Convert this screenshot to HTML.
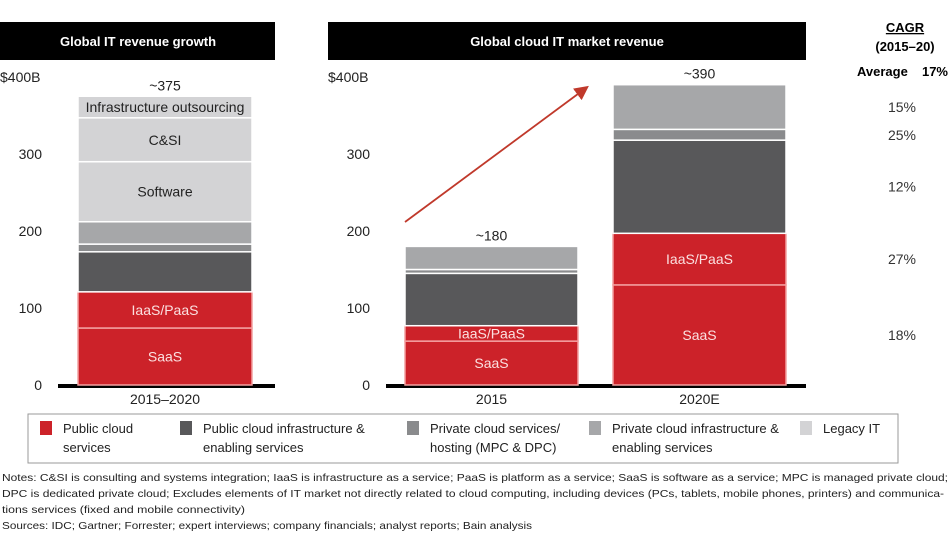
<!DOCTYPE html>
<html><head><meta charset="utf-8"><style>
body{margin:0;background:#fff;width:950px;height:533px;overflow:hidden;font-family:"Liberation Sans",sans-serif}
svg{display:block}
</style></head><body>
<svg id="chart" width="950" height="533" font-family="Liberation Sans, sans-serif">
<rect x="0" y="22" width="275" height="38" fill="#000"/>
<text x="138" y="46" fill="#fff" font-size="13" font-weight="bold" text-anchor="middle">Global IT revenue growth</text>
<rect x="328" y="22" width="478" height="38" fill="#000"/>
<text x="567" y="46" fill="#fff" font-size="13" font-weight="bold" text-anchor="middle">Global cloud IT market revenue</text>
<g>
<text x="905" y="32" font-size="13" font-weight="bold" text-anchor="middle" text-decoration="underline">CAGR</text>
<text x="905" y="51" font-size="13" font-weight="bold" text-anchor="middle">(2015–20)</text>
<text x="857" y="76" font-size="13" font-weight="bold">Average</text>
<text x="948" y="76" font-size="13" font-weight="bold" text-anchor="end">17%</text>
</g>
<g id="plot"></g>
<rect x="28" y="414" width="870" height="49" fill="none" stroke="#999"/>
<g id="legend" font-size="13"></g>
<g font-size="10.5" fill="#222">
<text x="2" y="481" textLength="946" lengthAdjust="spacingAndGlyphs">Notes: C&amp;SI is consulting and systems integration; IaaS is infrastructure as a service; PaaS is platform as a service; SaaS is software as a service; MPC is managed private cloud;</text>
<text x="2" y="497" textLength="942" lengthAdjust="spacingAndGlyphs">DPC is dedicated private cloud; Excludes elements of IT market not directly related to cloud computing, including devices (PCs, tablets, mobile phones, printers) and communica-</text>
<text x="2" y="513" textLength="243" lengthAdjust="spacingAndGlyphs">tions services (fixed and mobile connectivity)</text>
<text x="2" y="529" textLength="530" lengthAdjust="spacingAndGlyphs">Sources: IDC; Gartner; Forrester; expert interviews; company financials; analyst reports; Bain analysis</text>
</g>
</svg>
<script>
const categories=["2015–2020","2015","2020E"];
const segNames=["SaaS","IaaS/PaaS","Public cloud infra","Private cloud services","Private cloud infra","Software","C&SI","Infrastructure outsourcing"];
const seg2015_2020=[74,47,52,10,29,78,57,28];
const seg2015=[57,20,68,5,30,0,0,0];
const seg2020=[130,67,121,14,58,0,0,0];
const totals=["~375","~180","~390"];
const yTicks=[0,100,200,300,400];
const cagrLabels=["18%","27%","12%","25%","15%"];
const legendLabels=[["Public cloud","services"],["Public cloud infrastructure &","enabling services"],["Private cloud services/","hosting (MPC & DPC)"],["Private cloud infrastructure &","enabling services"],["Legacy IT",""]];
const colors=["#cc2229","#cc2229","#58585a","#8a8b8d","#a6a7a9","#d3d3d5","#d3d3d5","#d3d3d5"];
const legendColors=["#cc2229","#58585a","#8a8b8d","#a6a7a9","#d3d3d5"];
const NS="http://www.w3.org/2000/svg";
const plot=document.getElementById('plot');
const y0=385,pxPer=0.77;
function y(v){return y0-v*pxPer;}
function el(t,a,p,txt){const e=document.createElementNS(NS,t);for(const k in a)e.setAttribute(k,a[k]);if(txt!==undefined)e.textContent=txt;(p||plot).appendChild(e);return e;}
function axis(x1,x2,lx){
  yTicks.forEach(t=>{const tx=el('text',{x:lx,y:y(t)+5,'font-size':14,'text-anchor':'end',fill:'#222'},null,(t===400?'$400B':t));
  
  
  if(t===400){tx.setAttribute('x',lx-42);tx.setAttribute('text-anchor','start');}});
  const l=el('line',{x1:x1,x2:x2,y1:y0+1,y2:y0+1,stroke:'#000','stroke-width':4});
  
  
}
axis(58,275,42);
axis(386,806,370);
const bars=[{x:78,w:174,d:seg2015_2020,labels:["SaaS","IaaS/PaaS","","","","Software","C&SI","Infrastructure outsourcing"]},
{x:405,w:173,d:seg2015,labels:["SaaS","IaaS/PaaS","","","","","",""]},
{x:613,w:173,d:seg2020,labels:["SaaS","IaaS/PaaS","","","","","",""]}];
bars.forEach((b,bi)=>{
  let acc=0;
  b.d.forEach((v,i)=>{
    if(v<=0)return;
    const top=y(acc+v),bot=y(acc);
    const r=el('rect',{x:b.x,y:top,width:b.w,height:bot-top,fill:colors[i],stroke:(i<2?'#f3a0a0':'#fff'),'stroke-width':1.5});
    
    
    if(b.labels[i]){const t=el('text',{x:b.x+b.w/2,y:(top+bot)/2+5,'font-size':14,'text-anchor':'middle',fill:i<2?'#fbe0e0':'#222'},null,b.labels[i]);
      
      }
    acc+=v;
  });
  const tt=el('text',{x:b.x+b.w/2,y:y(acc)-6,'font-size':14,'text-anchor':'middle',fill:'#222'},null,totals[bi]);
  
  
  const c=el('text',{x:b.x+b.w/2,y:404,'font-size':14,'text-anchor':'middle',fill:'#222'},null,categories[bi]);
  
  
});
let acc2=0;
[0,1,2,3,4].forEach(i=>{
  const v=seg2020[i];const mid=y(acc2+v/2);acc2+=v;
  const t=el('text',{x:916,y:mid+5,'font-size':14,'text-anchor':'end',fill:'#333'},null,cagrLabels[i]);
  
  
});
el('defs',{},null).innerHTML='<marker id="ah" markerWidth="8" markerHeight="8" refX="6" refY="4" orient="auto"><path d="M0,0 L8,4 L0,8 Z" fill="#c0392b"/></marker>';
const ar=el('line',{x1:405,y1:222,x2:586,y2:88,stroke:'#c0392b','stroke-width':1.8,'marker-end':'url(#ah)'});


const lg=document.getElementById('legend');
const lx=[40,180,407,589,800];
legendLabels.forEach((l,i)=>{
  const r=el('rect',{x:lx[i],y:421,width:12,height:14,fill:legendColors[i]},lg);
  
  
  const t=el('text',{x:lx[i]+23,y:433,fill:'#222'},lg,l[0]);
  
  
  if(l[1]){el('text',{x:lx[i]+23,y:452,fill:'#222'},lg,l[1]);}
});
</script>
</body></html>
